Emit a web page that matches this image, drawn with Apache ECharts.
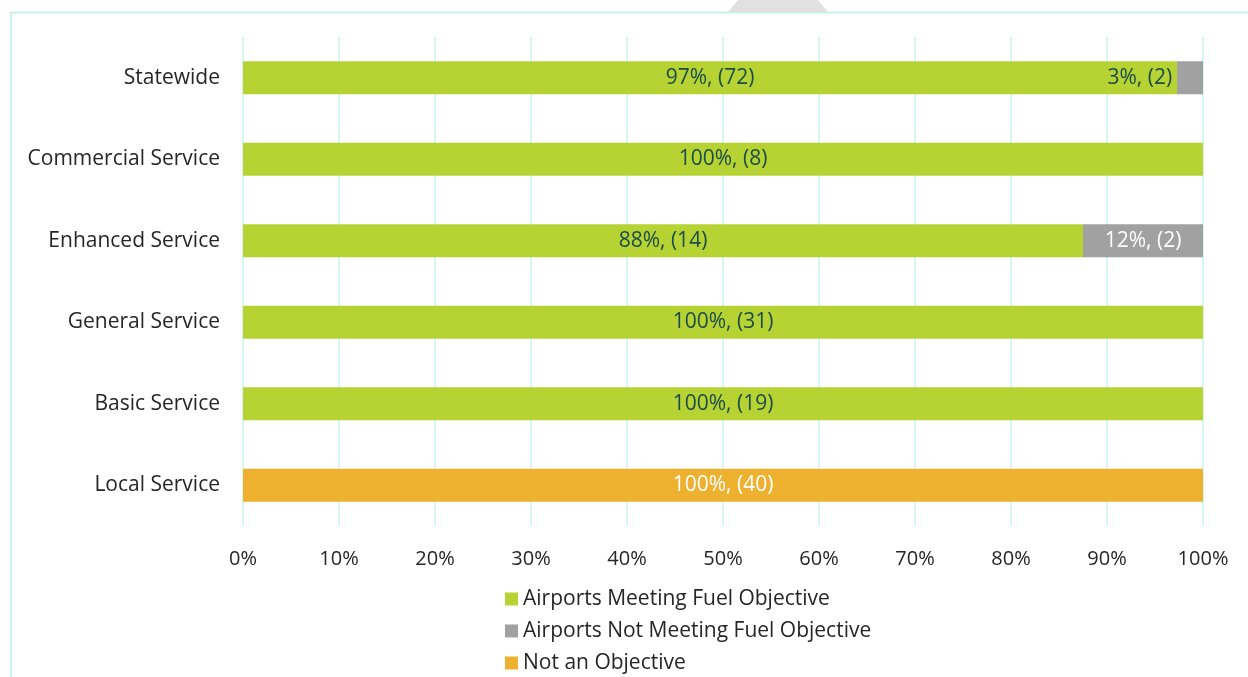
<!DOCTYPE html>
<html>
<head>
<meta charset="utf-8">
<script src="https://cdn.jsdelivr.net/npm/echarts@6/dist/echarts.min.js"></script>
<style>
  html, body { margin: 0; padding: 0; background: #fff; }
  #chart { width: 1248px; height: 677px; }
</style>
</head>
<body>
<div id="chart"></div>
<script>
// airport roles, top to bottom
var categories = ['Statewide', 'Commercial Service', 'Enhanced Service', 'General Service', 'Basic Service', 'Local Service'];
var seriesNames = ['Airports Meeting Fuel Objective', 'Airports Not Meeting Fuel Objective', 'Not an Objective'];

// share of airports (%)
var meetingPct    = [97.3, 100, 87.5, 100, 100, 0];
var notMeetingPct = [2.7, 0, 12.5, 0, 0, 0];
var notObjPct     = [0, 0, 0, 0, 0, 100];

// label text as printed on the bars
var meetingLabel    = ['97%', '100%', '88%', '100%', '100%', ''];
var meetingCount    = [72, 8, 14, 31, 19, 0];
var notMeetingLabel = ['3%', '', '12%', '', '', ''];
var notMeetingCount = [2, 0, 2, 0, 0, 0];
var notObjLabel     = ['', '', '', '', '', '100%'];
var notObjCount     = [0, 0, 0, 0, 0, 40];

var xTicks = [0, 10, 20, 30, 40, 50, 60, 70, 80, 90, 100];

var colors = ['#b6d333', '#a1a1a1', '#edb12f'];
var font = '"Open Sans", Lato, sans-serif';
var darkTeal = '#1c4c4a';

function buildData(values, pcts, counts, labelFor) {
    return values.map(function (v, i) {
        var item = { value: v };
        if (pcts[i]) {
            item.label = labelFor(i);
            item.label.formatter = pcts[i] + ', (' + counts[i] + ')';
            item.label.padding = [4, 0, 0, 0];
        } else {
            item.label = { show: false };
        }
        return item;
    });
}

var myChart = echarts.init(document.getElementById('chart'));

option = {
    animation: false,
    textStyle: { fontFamily: font },
    color: colors,
    grid: { left: 243, right: 45, top: 37, bottom: 151, containLabel: false },
    graphic: [
        {
            type: 'polyline',
            shape: { points: [[11, 677], [11, 12.5], [1248, 12.5]] },
            style: { stroke: '#c6f3ea', lineWidth: 2, fill: null },
            silent: true
        },
        {
            type: 'polygon',
            shape: { points: [[738, 0], [818, 0], [828, 12], [728, 12]] },
            style: { fill: '#e1e1e1' },
            silent: true
        }
    ],
    legend: {
        orient: 'vertical',
        left: 505,
        top: 587,
        padding: 0,
        itemWidth: 13,
        itemHeight: 13,
        itemGap: 8,
        icon: 'rect',
        data: seriesNames,
        textStyle: { fontFamily: font, fontSize: 21, color: '#262626', lineHeight: 24 }
    },
    xAxis: {
        type: 'value',
        min: 0,
        max: 100,
        interval: 10,
        axisLine: { show: false },
        axisTick: { show: false },
        splitLine: { show: true, lineStyle: { color: '#c9f3ec', width: 1.5 } },
        axisLabel: {
            margin: 23,
            fontSize: 20,
            color: '#262626',
            fontFamily: font,
            formatter: function (v) { return xTicks.indexOf(v) >= 0 ? v + '%' : ''; }
        }
    },
    yAxis: {
        type: 'category',
        inverse: true,
        data: categories,
        axisLine: { show: false },
        axisTick: { show: false },
        splitLine: { show: false },
        axisLabel: { margin: 23, fontSize: 21, color: '#262626', fontFamily: font, padding: [4, 0, 0, 0] }
    },
    series: [
        {
            name: seriesNames[0],
            type: 'bar',
            stack: 'total',
            barWidth: 33,
            data: buildData(meetingPct, meetingLabel, meetingCount, function () {
                return { show: true, position: 'inside', color: darkTeal, fontSize: 21, fontFamily: font };
            })
        },
        {
            name: seriesNames[1],
            type: 'bar',
            stack: 'total',
            barWidth: 33,
            data: buildData(notMeetingPct, notMeetingLabel, notMeetingCount, function (i) {
                // the thin statewide slice carries its label just to its left
                if (notMeetingPct[i] < 5) {
                    return { show: true, position: 'left', distance: 5, color: darkTeal, fontSize: 21, fontFamily: font };
                }
                return { show: true, position: 'inside', color: '#ffffff', fontSize: 21, fontFamily: font };
            })
        },
        {
            name: seriesNames[2],
            type: 'bar',
            stack: 'total',
            barWidth: 33,
            data: buildData(notObjPct, notObjLabel, notObjCount, function () {
                return { show: true, position: 'inside', color: '#ffffff', fontSize: 21, fontFamily: font };
            })
        }
    ]
};

myChart.setOption(option);
window.addEventListener('resize', function () { myChart.resize(); });
</script>
</body>
</html>
